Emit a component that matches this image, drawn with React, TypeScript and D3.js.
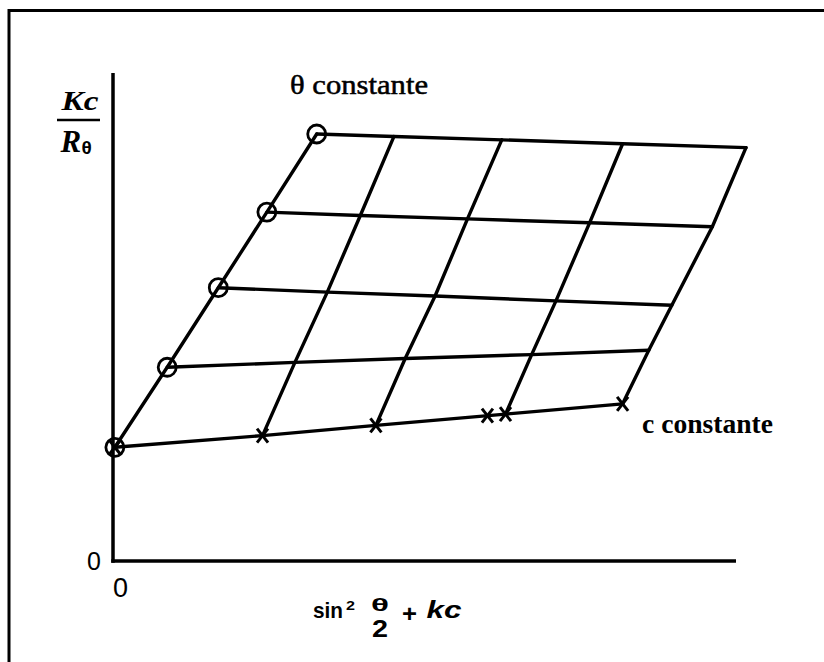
import React from "react";
import * as d3 from "d3";

// Zimm grid nodes: rows run at constant c (bottom row = c → 0 extrapolation),
// columns run at constant θ (first column = θ → 0 extrapolation).
const rowX: number[][] = [
  [0.03, 2.4, 4.22, 6.3, 8.18],
  [0.87, 2.92, 4.69, 6.72, 8.6],
  [1.69, 3.44, 5.17, 7.11, 8.97],
  [2.47, 3.97, 5.69, 7.65, 9.62],
  [3.27, 4.51, 6.24, 8.18, 10.16],
];
const rowY: number[][] = [
  [2.33, 2.57, 2.78, 3.01, 3.22],
  [3.97, 4.07, 4.15, 4.23, 4.32],
  [5.6, 5.51, 5.43, 5.33, 5.24],
  [7.15, 7.08, 7.01, 6.93, 6.85],
  [8.75, 8.7, 8.63, 8.55, 8.47],
];
// Extrapolated points on the c → 0 line (crosses)
const crossX: number[] = [0.03, 2.4, 4.22, 6.01, 6.3, 8.18];
const crossY: number[] = [2.33, 2.57, 2.78, 2.98, 3.01, 3.22];
// Extrapolated points on the θ → 0 line (circles)
const circleX: number[] = [0.03, 0.87, 1.69, 2.47, 3.27];
const circleY: number[] = [2.33, 3.97, 5.6, 7.15, 8.75];

const xTicks: string[] = ["0"];
const yTicks: string[] = ["0"];

const W = 824;
const H = 662;

export default function App() {
  const x = d3.scaleLinear().domain([0, 10]).range([113, 736]);
  const y = d3.scaleLinear().domain([0, 10]).range([561, 73]);
  const line = d3
    .line<[number, number]>()
    .x((d) => x(d[0]))
    .y((d) => y(d[1]));

  const rows = rowX.map((xs, i) => xs.map((v, j) => [v, rowY[i][j]] as [number, number]));
  const cols = rowX[0].map((_, j) => rowX.map((xs, i) => [xs[j], rowY[i][j]] as [number, number]));

  const serif = "'Liberation Serif', 'Times New Roman', serif";
  const sans = "'Liberation Sans', Arial, sans-serif";

  return (
    <svg
      width={W}
      height={H}
      viewBox={`0 0 ${W} ${H}`}
      style={{ position: "absolute", left: 0, top: 0, background: "#fff" }}
    >
      {/* frame */}
      <path d={`M9,${H} L9,10.5 L${W},10.5`} fill="none" stroke="#000" strokeWidth={3} />

      {/* axes */}
      <line x1={x(0)} y1={y(10)} x2={x(0)} y2={y(0) + 1.75} stroke="#000" strokeWidth={3.5} />
      <line x1={x(0) - 1.75} y1={y(0)} x2={x(10)} y2={y(0)} stroke="#000" strokeWidth={3.5} />

      {/* grid lines */}
      {rows.map((r, i) => (
        <path key={`r${i}`} d={line(r) || ""} fill="none" stroke="#000" strokeWidth={3.4} strokeLinecap="round" strokeLinejoin="round" />
      ))}
      {cols.map((c, j) => (
        <path key={`c${j}`} d={line(c) || ""} fill="none" stroke="#000" strokeWidth={3.4} strokeLinecap="round" strokeLinejoin="round" />
      ))}

      {/* circles */}
      {circleX.map((cx, i) => (
        <circle key={`o${i}`} cx={x(cx)} cy={y(circleY[i])} r={9} fill="none" stroke="#000" strokeWidth={2.8} />
      ))}

      {/* crosses */}
      {crossX.map((cx, i) => {
        const px = x(cx);
        const py = y(crossY[i]);
        return (
          <g key={`x${i}`} stroke="#000" strokeWidth={3}>
            <line x1={px - 5.5} y1={py - 7} x2={px + 5.5} y2={py + 7} />
            <line x1={px + 5.5} y1={py - 7} x2={px - 5.5} y2={py + 7} />
          </g>
        );
      })}

      {/* tick labels */}
      <text x={x(0) - 26} y={y(0) + 9} fontFamily={sans} fontSize={25}>
        {yTicks[0]}
      </text>
      <text x={x(0)} y={y(0) + 36} fontFamily={sans} fontSize={27}>
        {xTicks[0]}
      </text>

      {/* y-axis title: Kc / Rθ */}
      <text x={61.5} y={110} fontFamily={serif} fontSize={28} fontWeight="bold" fontStyle="italic" textLength={37} lengthAdjust="spacingAndGlyphs">
        Kc
      </text>
      <line x1={57} y1={120} x2={100} y2={120} stroke="#000" strokeWidth={2.6} />
      <text x={60.5} y={151.5} fontFamily={serif} fontSize={31} fontWeight="bold" fontStyle="italic">
        R
      </text>
      <text x={81.5} y={154} fontFamily={sans} fontSize={19} fontWeight="bold">
        θ
      </text>

      {/* x-axis title: sin² θ/2 + kc */}
      <text x={313} y={618.3} fontFamily={sans} fontSize={22} fontWeight="bold" textLength={30} lengthAdjust="spacingAndGlyphs">
        sin
      </text>
      <text x={346} y={610} fontFamily={sans} fontSize={13} fontWeight="bold" textLength={9} lengthAdjust="spacingAndGlyphs">
        2
      </text>
      <text x={371} y={610.5} fontFamily={sans} fontSize={19} fontWeight="bold" textLength={18} lengthAdjust="spacingAndGlyphs">
        θ
      </text>
      <text x={372} y={636.7} fontFamily={sans} fontSize={23} fontWeight="bold" textLength={16} lengthAdjust="spacingAndGlyphs">
        2
      </text>
      <text x={402} y={621.5} fontFamily={sans} fontSize={24} fontWeight="bold" textLength={15} lengthAdjust="spacingAndGlyphs">
        +
      </text>
      <text x={426.5} y={618.3} fontFamily={sans} fontSize={23} fontWeight="bold" fontStyle="italic" textLength={35} lengthAdjust="spacingAndGlyphs">
        kc
      </text>

      {/* line annotations */}
      <text x={290} y={94.3} fontFamily={serif} fontSize={27} stroke="#000" strokeWidth={0.5} textLength={138} lengthAdjust="spacingAndGlyphs">
        θ constante
      </text>
      <text x={642} y={433.3} fontFamily={serif} fontSize={27} fontWeight="bold" textLength={131} lengthAdjust="spacingAndGlyphs">
        c constante
      </text>
    </svg>
  );
}
